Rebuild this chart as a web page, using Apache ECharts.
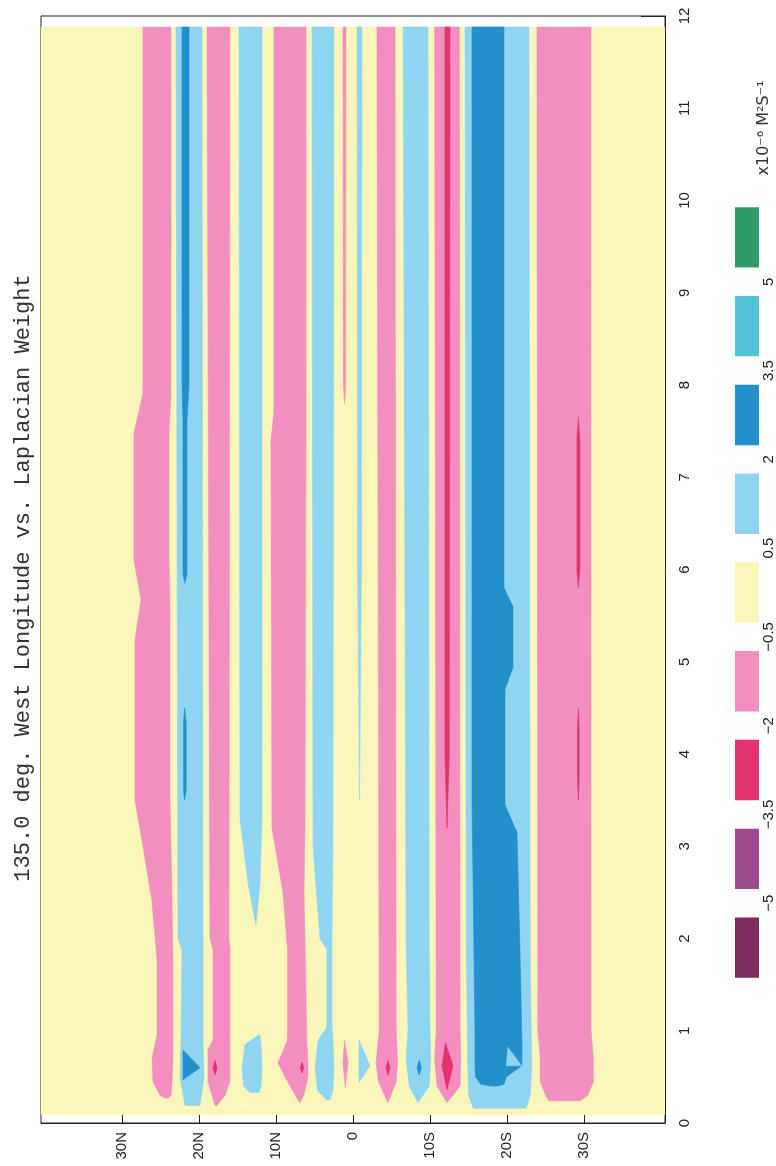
<!DOCTYPE html>
<html>
<head>
<meta charset="utf-8">
<script src="https://cdn.jsdelivr.net/npm/echarts@6/dist/echarts.min.js"></script>
<style>
  html, body { margin: 0; padding: 0; background: #fff; }
  #main { width: 776px; height: 1166px; }
</style>
</head>
<body>
<div id="main"></div>
<script>
// contour classes, from the lowest (< -5) to the highest (> 5)
const classColors = ['#7a2c5f', '#9b4a8e', '#e2326f', '#f28ec0', '#faf6b9', '#8fd5f2', '#2390cb', '#52c2d4', '#2f9b6b'];
const classBounds = ['\u22125', '\u22123.5', '\u22122', '\u22120.5', '0.5', '2', '3.5', '5'];
const latTicks = [30, 20, 10, 0, -10, -20, -30];
const titleText = '135.0 deg. West Longitude vs. Laplacian Weight';
const unitText = 'x10\u207b\u2076 M\u00b2S\u207b\u00b9';

// each region: rows of [laplacian weight, north edge lat, south edge lat]
const bgArea = [[11.88, 40.5, -40.5], [0.09, 40.5, -40.5]];
const pinkA = [
  [11.88, 27.26, 23.63], [7.91, 27.26, 23.63], [7.48, 28.43, 23.89], [6.10, 28.43, 23.89],
  [5.67, 27.52, 23.76], [5.24, 28.30, 23.76], [3.50, 28.30, 23.76], [3.00, 27.26, 23.63],
  [2.40, 26.09, 23.50], [1.77, 25.44, 23.37], [0.95, 25.44, 23.37], [0.70, 26.09, 23.37],
  [0.45, 25.96, 23.50], [0.30, 25.05, 23.63], [0.27, 24.40, 24.00]
];
const lightB = [
  [11.88, 22.98, 19.60], [2.00, 22.72, 19.47], [1.88, 22.20, 19.47],
  [0.90, 22.33, 19.47], [0.50, 22.46, 19.34], [0.19, 21.81, 19.86]
];
const blueLineB = [[11.88, 22.20, 21.29], [8.00, 22.20, 21.29], [7.60, 22.07, 21.55], [5.95, 22.07, 21.55], [5.85, 21.81, 21.81]];
const blueLineBLow = [[4.50, 21.85, 21.85], [4.35, 22.00, 21.65], [3.60, 22.00, 21.65], [3.50, 21.85, 21.85]];
const blueTriB = [[0.79, 22.07, 22.07], [0.60, 22.07, 19.86], [0.47, 22.07, 22.07]];
const pinkC = [
  [11.88, 18.95, 15.97], [2.00, 18.56, 16.10], [1.88, 18.17, 15.97], [0.90, 18.17, 15.97],
  [0.80, 18.82, 15.97], [0.45, 18.82, 15.97], [0.30, 18.30, 16.60], [0.19, 17.91, 17.65]
];
const crimsonDotC = [[0.68, 17.91, 17.91], [0.60, 18.17, 17.65], [0.52, 17.91, 17.91]];
const lightC = [[11.88, 14.80, 11.81], [3.30, 14.67, 11.81], [2.60, 13.63, 12.07], [2.15, 12.60, 12.60]];
const lightCBlob = [[0.95, 12.33, 12.07], [0.85, 14.02, 11.94], [0.60, 14.41, 11.81], [0.40, 14.20, 11.94], [0.33, 13.40, 12.20]];
const pinkD = [
  [11.88, 10.26, 6.10], [7.70, 10.26, 6.10], [7.40, 10.65, 6.10], [3.20, 10.52, 6.23],
  [2.50, 9.09, 6.36], [1.88, 8.50, 6.20], [0.90, 8.50, 6.00], [0.65, 9.74, 5.84],
  [0.50, 8.80, 5.84], [0.30, 7.50, 6.40], [0.22, 6.90, 6.90]
];
const crimsonDotD = [[0.66, 6.62, 6.62], [0.60, 6.85, 6.40], [0.54, 6.62, 6.62]];
const lightE = [
  [11.88, 5.32, 2.47], [3.00, 5.19, 2.60], [2.00, 4.29, 2.73], [1.88, 3.38, 2.73],
  [1.04, 3.38, 2.73], [0.90, 4.50, 2.60], [0.60, 4.93, 2.47], [0.35, 4.60, 2.60], [0.25, 3.40, 3.00]
];
const pinkF = [[11.88, 1.30, 0.91], [8.00, 1.25, 0.95], [7.80, 1.10, 1.10]];
const pinkFBlob = [[0.90, 1.10, 1.10], [0.65, 1.30, 0.65], [0.39, 1.00, 1.00]];
const lightG = [[11.88, -0.52, -1.17], [6.00, -0.60, -1.10], [3.50, -0.85, -0.85]];
const lightGBlob = [[0.90, -0.78, -0.78], [0.62, -0.78, -2.21], [0.44, -0.78, -0.78]];
const pinkH = [[11.88, -3.11, -5.45], [1.00, -3.40, -5.60], [0.65, -3.00, -5.80], [0.45, -3.30, -5.60], [0.22, -4.54, -4.54]];
const crimsonDotH = [[0.68, -4.54, -4.54], [0.60, -4.30, -4.80], [0.52, -4.54, -4.54]];
const lightI = [
  [11.88, -6.50, -9.74], [1.88, -6.90, -9.90], [1.00, -7.14, -10.00],
  [0.70, -6.90, -10.10], [0.40, -7.30, -9.90], [0.22, -8.44, -8.44]
];
const blueDotI = [[0.68, -8.60, -8.60], [0.60, -8.30, -8.90], [0.52, -8.60, -8.60]];
const pinkJ = [[11.88, -10.60, -13.80], [1.00, -10.80, -13.90], [0.70, -10.60, -14.00], [0.40, -10.90, -13.90], [0.22, -12.20, -12.20]];
const crimsonJ = [[11.88, -11.94, -12.59], [4.00, -11.94, -12.50], [3.20, -12.20, -12.20]];
const crimsonJBlob = [[0.87, -12.00, -12.00], [0.62, -11.55, -12.98], [0.36, -12.20, -12.20]];
const lightK = [[11.88, -14.54, -22.84], [1.88, -14.70, -23.00], [0.60, -14.90, -23.20], [0.30, -15.00, -23.00], [0.16, -15.60, -22.50]];
const blueL = [
  [11.88, -15.45, -19.60], [5.80, -15.45, -19.60], [5.60, -15.45, -20.77], [4.94, -15.45, -20.77],
  [4.70, -15.45, -19.73], [3.45, -15.45, -19.73], [3.15, -15.50, -21.29], [1.88, -15.70, -21.67],
  [0.90, -15.84, -21.93], [0.62, -15.84, -21.93], [0.50, -15.90, -19.90], [0.42, -16.60, -19.60],
  [0.40, -18.00, -18.80]
];
const notchL = [[0.82, -20.10, -20.10], [0.62, -19.90, -21.90]];
const pinkN = [[11.88, -23.88, -30.89], [1.00, -24.00, -30.90], [0.70, -24.30, -31.20], [0.45, -24.30, -31.20], [0.30, -25.00, -30.50], [0.24, -25.40, -29.50]];
const crimsonN = [[7.65, -29.25, -29.25], [7.40, -29.07, -29.46], [6.00, -29.07, -29.46], [5.80, -29.25, -29.25]];
const crimsonNLow = [[4.50, -29.25, -29.25], [4.30, -29.15, -29.35], [3.70, -29.15, -29.35], [3.50, -29.25, -29.25]];

// drawing order, class index per region
const regions = [
  [4, bgArea],
  [3, pinkA], [5, lightB], [6, blueLineB], [6, blueLineBLow], [6, blueTriB],
  [3, pinkC], [2, crimsonDotC], [5, lightC], [5, lightCBlob],
  [3, pinkD], [2, crimsonDotD], [5, lightE], [3, pinkF], [3, pinkFBlob],
  [5, lightG], [5, lightGBlob], [3, pinkH], [2, crimsonDotH],
  [5, lightI], [6, blueDotI], [3, pinkJ], [2, crimsonJ], [2, crimsonJBlob],
  [5, lightK], [6, blueL], [5, notchL], [3, pinkN], [2, crimsonN], [2, crimsonNLow]
];

function latLabel(v) {
  if (v === 0) return '0';
  return Math.abs(v) + (v > 0 ? 'N' : 'S');
}

const chart = echarts.init(document.getElementById('main'));
const labelFont = { fontFamily: '"Liberation Sans", Arial, sans-serif', fontSize: 15, color: '#222' };

chart.setOption({
  animation: false,
  backgroundColor: '#fff',
  grid: [
    { left: 41, right: 111, top: 16, bottom: 43, show: true, borderColor: '#222', borderWidth: 1, backgroundColor: 'transparent' },
    { left: 735, width: 25, top: 193, height: 799 }
  ],
  xAxis: [
    {
      type: 'value', gridIndex: 0, min: -40.5, max: 40.5, inverse: true, position: 'bottom',
      axisLine: { show: true, onZero: false, lineStyle: { color: '#222', width: 1 } },
      axisTick: { show: true, inside: true, length: 10, customValues: latTicks, lineStyle: { color: '#222' } },
      axisLabel: Object.assign({ customValues: latTicks, rotate: 90, margin: 9, formatter: latLabel }, labelFont),
      splitLine: { show: false }
    },
    {
      type: 'value', gridIndex: 1, min: 0, max: 1, show: false,
      axisLine: { show: false, onZero: false }, axisTick: { show: false }, axisLabel: { show: false }, splitLine: { show: false }
    }
  ],
  yAxis: [
    {
      type: 'value', gridIndex: 0, min: 0, max: 12, interval: 1, position: 'right',
      axisLine: { show: true, onZero: false, lineStyle: { color: '#222', width: 1 } },
      axisTick: { show: true, inside: true, length: 24, lineStyle: { color: '#222' } },
      axisLabel: Object.assign({ rotate: 90, margin: 12 }, labelFont),
      splitLine: { show: false }
    },
    {
      type: 'value', gridIndex: 1, min: 0, max: 9, interval: 1, position: 'right',
      axisLine: { show: false, onZero: false }, axisTick: { show: false }, splitLine: { show: false },
      axisLabel: Object.assign({
        rotate: 90, margin: 2,
        formatter: v => (v >= 1 && v <= 8) ? classBounds[v - 1] : ''
      }, labelFont)
    }
  ],
  graphic: [
    {
      type: 'text', x: 23, y: 578, rotation: Math.PI / 2, silent: true,
      style: {
        text: titleText, fill: '#333',
        font: '22px "Liberation Mono", "DejaVu Sans Mono", monospace',
        align: 'center', verticalAlign: 'middle', textAlign: 'center', textVerticalAlign: 'middle'
      }
    },
    {
      type: 'text', x: 764, y: 128, rotation: Math.PI / 2, silent: true,
      style: {
        text: unitText, fill: '#333',
        font: '16px "DejaVu Sans", sans-serif',
        align: 'center', verticalAlign: 'middle', textAlign: 'center', textVerticalAlign: 'middle'
      }
    }
  ],
  series: [
    {
      type: 'custom',
      xAxisIndex: 0, yAxisIndex: 0,
      silent: true,
      clip: true,
      data: regions.map((r, i) => [i, 1]),
      renderItem: function (params, api) {
        const reg = regions[api.value(0)];
        const rows = reg[1];
        const pts = [];
        for (let i = 0; i < rows.length; i++) pts.push(api.coord([rows[i][1], rows[i][0]]));
        for (let i = rows.length - 1; i >= 0; i--) pts.push(api.coord([rows[i][2], rows[i][0]]));
        return {
          type: 'polygon',
          shape: { points: pts },
          style: { fill: classColors[reg[0]], stroke: classColors[reg[0]], lineWidth: 0.6 }
        };
      }
    },
    {
      type: 'custom',
      xAxisIndex: 1, yAxisIndex: 1,
      silent: true,
      data: classColors.map((c, i) => [0.5, i]),
      renderItem: function (params, api) {
        const k = api.value(1);
        const p0 = api.coord([0, k + 0.84]);
        const p1 = api.coord([1, k + 0.16]);
        return {
          type: 'rect',
          shape: { x: p0[0], y: p0[1], width: p1[0] - p0[0], height: p1[1] - p0[1] },
          style: { fill: classColors[k] }
        };
      }
    }
  ]
});
</script>
</body>
</html>
